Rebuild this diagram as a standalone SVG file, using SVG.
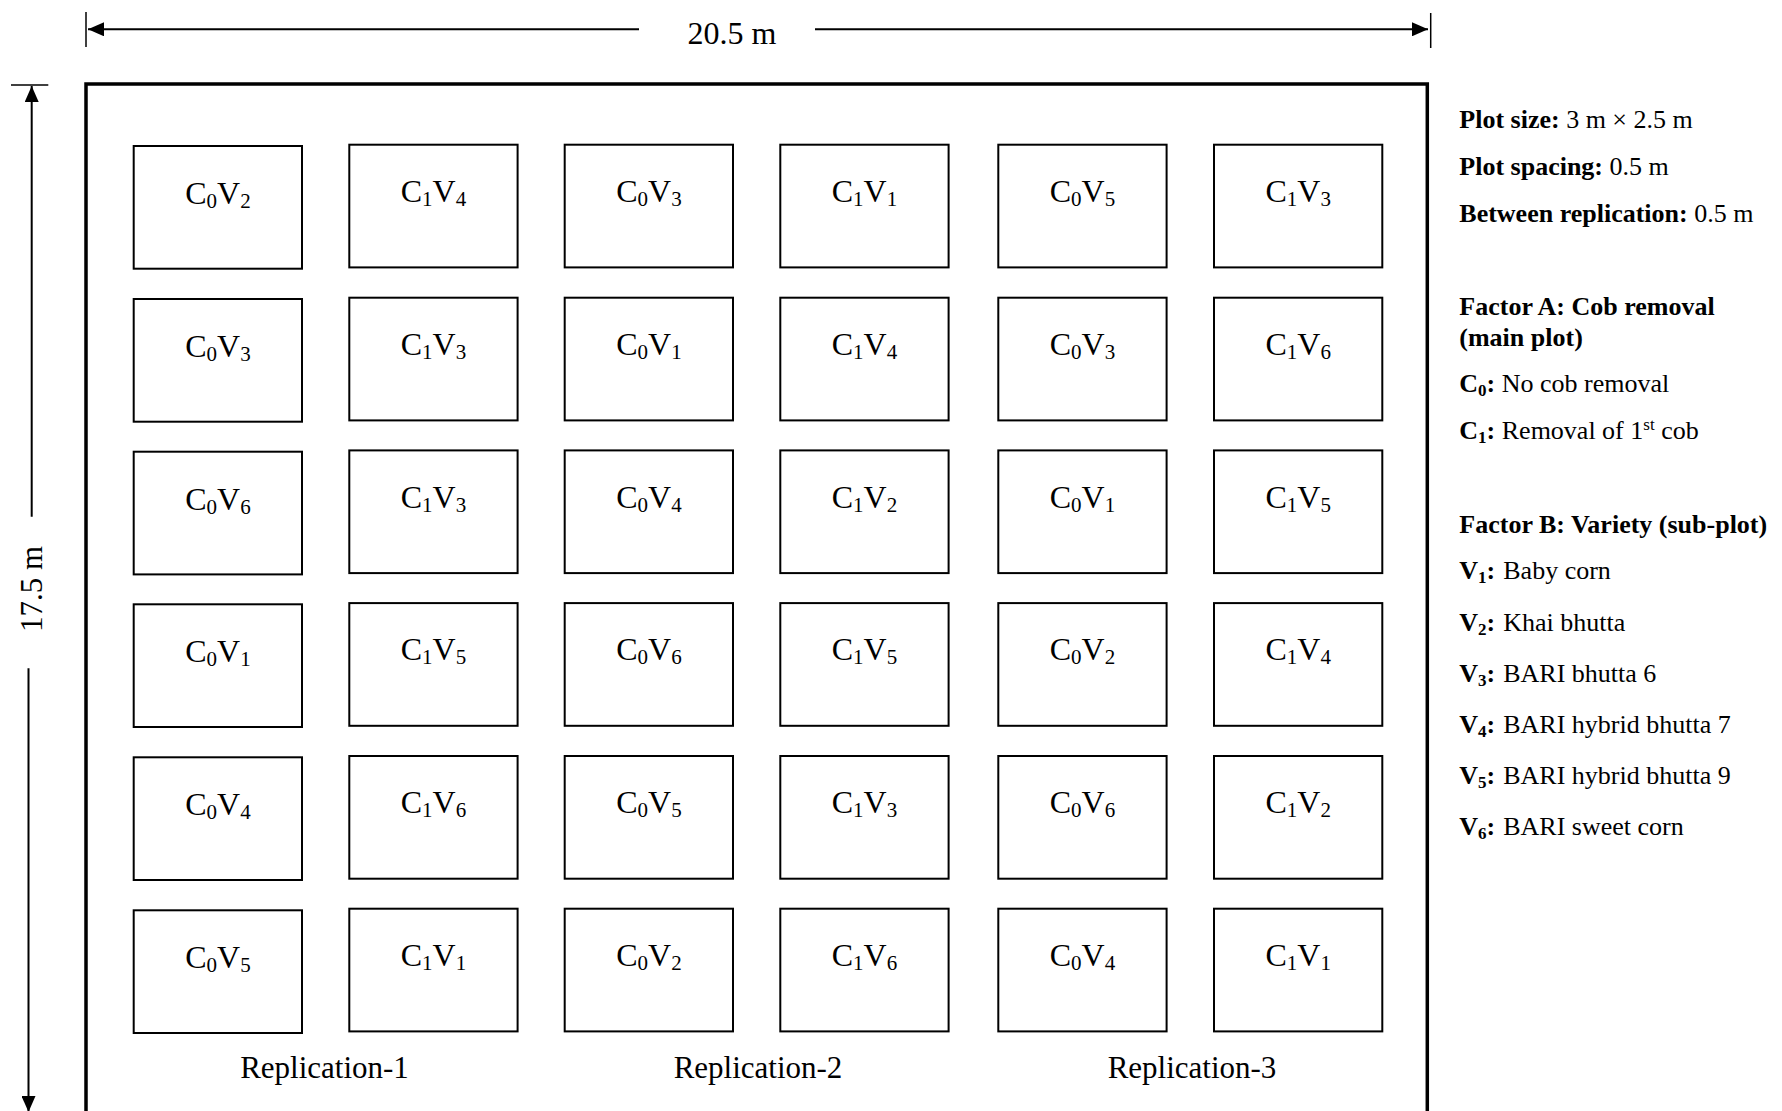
<svg xmlns="http://www.w3.org/2000/svg" width="1782" height="1111" viewBox="0 0 1782 1111">
<style>
text{font-family:"Liberation Serif","Times New Roman",serif;fill:#000}
.lab{font-size:32px;text-anchor:middle}
.sub{font-size:21px}
.plot{fill:#fff;stroke:#000;stroke-width:2}
.dim{stroke:#000;stroke-width:2;fill:none}
.tick{stroke:#000;stroke-width:1.5}
.leg{font-size:26px}
.b{font-weight:bold}
.ls{font-size:17px}
.rep{font-size:31px;text-anchor:middle}
</style>
<defs>
<marker id="ah" viewBox="0 0 16 14" refX="16" refY="7" markerWidth="16" markerHeight="14" markerUnits="userSpaceOnUse" orient="auto">
<path d="M0,0 L16,7 L0,14 z" fill="#000"/>
</marker>
</defs>
<g id="connectors">
<line class="dim" x1="639" y1="29.3" x2="88" y2="29.3" marker-end="url(#ah)"/>
<line class="dim" x1="815" y1="29.3" x2="1428" y2="29.3" marker-end="url(#ah)"/>
<line class="tick" x1="86" y1="12" x2="86" y2="47"/>
<line class="tick" x1="1430.7" y1="13" x2="1430.7" y2="48"/>
<line class="dim" x1="31.7" y1="516.7" x2="31.7" y2="86" marker-end="url(#ah)"/>
<line class="dim" x1="28.5" y1="668.3" x2="28.5" y2="1112" marker-end="url(#ah)"/>
<line class="tick" x1="11" y1="85" x2="48.3" y2="85"/>
</g>
<text x="732" y="44" style="font-size:32px;text-anchor:middle">20.5 m</text>
<text transform="translate(41.5,589) rotate(-90)" style="font-size:31px;text-anchor:middle">17.5 m</text>
<rect id="field" x="86" y="84" width="1341.3" height="1040" fill="none" stroke="#000" stroke-width="3.5"/>
<g id="plots">
<g id="r1c1"><rect class="plot" x="133.7" y="146" width="168.3" height="122.7"/><text class="lab" x="217.9" y="204">C<tspan class="sub" dy="4">0</tspan><tspan dy="-4">V</tspan><tspan class="sub" dy="4">2</tspan></text></g>
<g id="r1c2"><rect class="plot" x="349.3" y="144.7" width="168.3" height="122.7"/><text class="lab" x="433.5" y="202">C<tspan class="sub" dy="4">1</tspan><tspan dy="-4">V</tspan><tspan class="sub" dy="4">4</tspan></text></g>
<g id="r1c3"><rect class="plot" x="564.7" y="144.7" width="168.3" height="122.7"/><text class="lab" x="648.9" y="202">C<tspan class="sub" dy="4">0</tspan><tspan dy="-4">V</tspan><tspan class="sub" dy="4">3</tspan></text></g>
<g id="r1c4"><rect class="plot" x="780.3" y="144.7" width="168.3" height="122.7"/><text class="lab" x="864.5" y="202">C<tspan class="sub" dy="4">1</tspan><tspan dy="-4">V</tspan><tspan class="sub" dy="4">1</tspan></text></g>
<g id="r1c5"><rect class="plot" x="998.3" y="144.7" width="168.3" height="122.7"/><text class="lab" x="1082.5" y="202">C<tspan class="sub" dy="4">0</tspan><tspan dy="-4">V</tspan><tspan class="sub" dy="4">5</tspan></text></g>
<g id="r1c6"><rect class="plot" x="1214" y="144.7" width="168.3" height="122.7"/><text class="lab" x="1298.2" y="202">C<tspan class="sub" dy="4">1</tspan><tspan dy="-4">V</tspan><tspan class="sub" dy="4">3</tspan></text></g>

<g id="r2c1"><rect class="plot" x="133.7" y="299" width="168.3" height="122.7"/><text class="lab" x="217.9" y="357">C<tspan class="sub" dy="4">0</tspan><tspan dy="-4">V</tspan><tspan class="sub" dy="4">3</tspan></text></g>
<g id="r2c2"><rect class="plot" x="349.3" y="297.7" width="168.3" height="122.7"/><text class="lab" x="433.5" y="355">C<tspan class="sub" dy="4">1</tspan><tspan dy="-4">V</tspan><tspan class="sub" dy="4">3</tspan></text></g>
<g id="r2c3"><rect class="plot" x="564.7" y="297.7" width="168.3" height="122.7"/><text class="lab" x="648.9" y="355">C<tspan class="sub" dy="4">0</tspan><tspan dy="-4">V</tspan><tspan class="sub" dy="4">1</tspan></text></g>
<g id="r2c4"><rect class="plot" x="780.3" y="297.7" width="168.3" height="122.7"/><text class="lab" x="864.5" y="355">C<tspan class="sub" dy="4">1</tspan><tspan dy="-4">V</tspan><tspan class="sub" dy="4">4</tspan></text></g>
<g id="r2c5"><rect class="plot" x="998.3" y="297.7" width="168.3" height="122.7"/><text class="lab" x="1082.5" y="355">C<tspan class="sub" dy="4">0</tspan><tspan dy="-4">V</tspan><tspan class="sub" dy="4">3</tspan></text></g>
<g id="r2c6"><rect class="plot" x="1214" y="297.7" width="168.3" height="122.7"/><text class="lab" x="1298.2" y="355">C<tspan class="sub" dy="4">1</tspan><tspan dy="-4">V</tspan><tspan class="sub" dy="4">6</tspan></text></g>

<g id="r3c1"><rect class="plot" x="133.7" y="451.7" width="168.3" height="122.7"/><text class="lab" x="217.9" y="509.7">C<tspan class="sub" dy="4">0</tspan><tspan dy="-4">V</tspan><tspan class="sub" dy="4">6</tspan></text></g>
<g id="r3c2"><rect class="plot" x="349.3" y="450.4" width="168.3" height="122.7"/><text class="lab" x="433.5" y="507.7">C<tspan class="sub" dy="4">1</tspan><tspan dy="-4">V</tspan><tspan class="sub" dy="4">3</tspan></text></g>
<g id="r3c3"><rect class="plot" x="564.7" y="450.4" width="168.3" height="122.7"/><text class="lab" x="648.9" y="507.7">C<tspan class="sub" dy="4">0</tspan><tspan dy="-4">V</tspan><tspan class="sub" dy="4">4</tspan></text></g>
<g id="r3c4"><rect class="plot" x="780.3" y="450.4" width="168.3" height="122.7"/><text class="lab" x="864.5" y="507.7">C<tspan class="sub" dy="4">1</tspan><tspan dy="-4">V</tspan><tspan class="sub" dy="4">2</tspan></text></g>
<g id="r3c5"><rect class="plot" x="998.3" y="450.4" width="168.3" height="122.7"/><text class="lab" x="1082.5" y="507.7">C<tspan class="sub" dy="4">0</tspan><tspan dy="-4">V</tspan><tspan class="sub" dy="4">1</tspan></text></g>
<g id="r3c6"><rect class="plot" x="1214" y="450.4" width="168.3" height="122.7"/><text class="lab" x="1298.2" y="507.7">C<tspan class="sub" dy="4">1</tspan><tspan dy="-4">V</tspan><tspan class="sub" dy="4">5</tspan></text></g>

<g id="r4c1"><rect class="plot" x="133.7" y="604.3" width="168.3" height="122.7"/><text class="lab" x="217.9" y="662.3">C<tspan class="sub" dy="4">0</tspan><tspan dy="-4">V</tspan><tspan class="sub" dy="4">1</tspan></text></g>
<g id="r4c2"><rect class="plot" x="349.3" y="603.1" width="168.3" height="122.7"/><text class="lab" x="433.5" y="660.3">C<tspan class="sub" dy="4">1</tspan><tspan dy="-4">V</tspan><tspan class="sub" dy="4">5</tspan></text></g>
<g id="r4c3"><rect class="plot" x="564.7" y="603.1" width="168.3" height="122.7"/><text class="lab" x="648.9" y="660.3">C<tspan class="sub" dy="4">0</tspan><tspan dy="-4">V</tspan><tspan class="sub" dy="4">6</tspan></text></g>
<g id="r4c4"><rect class="plot" x="780.3" y="603.1" width="168.3" height="122.7"/><text class="lab" x="864.5" y="660.3">C<tspan class="sub" dy="4">1</tspan><tspan dy="-4">V</tspan><tspan class="sub" dy="4">5</tspan></text></g>
<g id="r4c5"><rect class="plot" x="998.3" y="603.1" width="168.3" height="122.7"/><text class="lab" x="1082.5" y="660.3">C<tspan class="sub" dy="4">0</tspan><tspan dy="-4">V</tspan><tspan class="sub" dy="4">2</tspan></text></g>
<g id="r4c6"><rect class="plot" x="1214" y="603.1" width="168.3" height="122.7"/><text class="lab" x="1298.2" y="660.3">C<tspan class="sub" dy="4">1</tspan><tspan dy="-4">V</tspan><tspan class="sub" dy="4">4</tspan></text></g>

<g id="r5c1"><rect class="plot" x="133.7" y="757.3" width="168.3" height="122.7"/><text class="lab" x="217.9" y="815.3">C<tspan class="sub" dy="4">0</tspan><tspan dy="-4">V</tspan><tspan class="sub" dy="4">4</tspan></text></g>
<g id="r5c2"><rect class="plot" x="349.3" y="756" width="168.3" height="122.7"/><text class="lab" x="433.5" y="813.3">C<tspan class="sub" dy="4">1</tspan><tspan dy="-4">V</tspan><tspan class="sub" dy="4">6</tspan></text></g>
<g id="r5c3"><rect class="plot" x="564.7" y="756" width="168.3" height="122.7"/><text class="lab" x="648.9" y="813.3">C<tspan class="sub" dy="4">0</tspan><tspan dy="-4">V</tspan><tspan class="sub" dy="4">5</tspan></text></g>
<g id="r5c4"><rect class="plot" x="780.3" y="756" width="168.3" height="122.7"/><text class="lab" x="864.5" y="813.3">C<tspan class="sub" dy="4">1</tspan><tspan dy="-4">V</tspan><tspan class="sub" dy="4">3</tspan></text></g>
<g id="r5c5"><rect class="plot" x="998.3" y="756" width="168.3" height="122.7"/><text class="lab" x="1082.5" y="813.3">C<tspan class="sub" dy="4">0</tspan><tspan dy="-4">V</tspan><tspan class="sub" dy="4">6</tspan></text></g>
<g id="r5c6"><rect class="plot" x="1214" y="756" width="168.3" height="122.7"/><text class="lab" x="1298.2" y="813.3">C<tspan class="sub" dy="4">1</tspan><tspan dy="-4">V</tspan><tspan class="sub" dy="4">2</tspan></text></g>

<g id="r6c1"><rect class="plot" x="133.7" y="910.3" width="168.3" height="122.7"/><text class="lab" x="217.9" y="968.3">C<tspan class="sub" dy="4">0</tspan><tspan dy="-4">V</tspan><tspan class="sub" dy="4">5</tspan></text></g>
<g id="r6c2"><rect class="plot" x="349.3" y="908.7" width="168.3" height="122.7"/><text class="lab" x="433.5" y="966.3">C<tspan class="sub" dy="4">1</tspan><tspan dy="-4">V</tspan><tspan class="sub" dy="4">1</tspan></text></g>
<g id="r6c3"><rect class="plot" x="564.7" y="908.7" width="168.3" height="122.7"/><text class="lab" x="648.9" y="966.3">C<tspan class="sub" dy="4">0</tspan><tspan dy="-4">V</tspan><tspan class="sub" dy="4">2</tspan></text></g>
<g id="r6c4"><rect class="plot" x="780.3" y="908.7" width="168.3" height="122.7"/><text class="lab" x="864.5" y="966.3">C<tspan class="sub" dy="4">1</tspan><tspan dy="-4">V</tspan><tspan class="sub" dy="4">6</tspan></text></g>
<g id="r6c5"><rect class="plot" x="998.3" y="908.7" width="168.3" height="122.7"/><text class="lab" x="1082.5" y="966.3">C<tspan class="sub" dy="4">0</tspan><tspan dy="-4">V</tspan><tspan class="sub" dy="4">4</tspan></text></g>
<g id="r6c6"><rect class="plot" x="1214" y="908.7" width="168.3" height="122.7"/><text class="lab" x="1298.2" y="966.3">C<tspan class="sub" dy="4">1</tspan><tspan dy="-4">V</tspan><tspan class="sub" dy="4">1</tspan></text></g>
</g>
<g id="replications">
<text class="rep" x="324.5" y="1078.3">Replication-1</text>
<text class="rep" x="758" y="1078.3">Replication-2</text>
<text class="rep" x="1192" y="1078.3">Replication-3</text>
</g>
<g id="legend" class="leg">
<text x="1459.3" y="128.3"><tspan class="b">Plot size:</tspan> 3 m × 2.5 m</text>
<text x="1459.3" y="175"><tspan class="b">Plot spacing:</tspan> 0.5 m</text>
<text x="1459.3" y="221.7"><tspan class="b">Between replication:</tspan> 0.5 m</text>
<text x="1459.3" y="315" class="b">Factor A: Cob removal</text>
<text x="1459.3" y="346" class="b">(main plot)</text>
<text x="1459.3" y="392"><tspan class="b">C</tspan><tspan class="b ls" dy="4">0</tspan><tspan class="b" dy="-4">:</tspan> No cob removal</text>
<text x="1459.3" y="439"><tspan class="b">C</tspan><tspan class="b ls" dy="4">1</tspan><tspan class="b" dy="-4">:</tspan> Removal of 1<tspan class="ls" dy="-9">st</tspan><tspan dy="9"> cob</tspan></text>
<text x="1459.3" y="533" class="b">Factor B: Variety (sub-plot)</text>
<text x="1459.3" y="579"><tspan class="b">V</tspan><tspan class="b ls" dy="4">1</tspan><tspan class="b" dy="-4">:</tspan><tspan dx="8">Baby corn</tspan></text>
<text x="1459.3" y="630.5"><tspan class="b">V</tspan><tspan class="b ls" dy="4">2</tspan><tspan class="b" dy="-4">:</tspan><tspan dx="8">Khai bhutta</tspan></text>
<text x="1459.3" y="681.5"><tspan class="b">V</tspan><tspan class="b ls" dy="4">3</tspan><tspan class="b" dy="-4">:</tspan><tspan dx="8">BARI bhutta 6</tspan></text>
<text x="1459.3" y="733"><tspan class="b">V</tspan><tspan class="b ls" dy="4">4</tspan><tspan class="b" dy="-4">:</tspan><tspan dx="8">BARI hybrid bhutta 7</tspan></text>
<text x="1459.3" y="784"><tspan class="b">V</tspan><tspan class="b ls" dy="4">5</tspan><tspan class="b" dy="-4">:</tspan><tspan dx="8">BARI hybrid bhutta 9</tspan></text>
<text x="1459.3" y="835"><tspan class="b">V</tspan><tspan class="b ls" dy="4">6</tspan><tspan class="b" dy="-4">:</tspan><tspan dx="8">BARI sweet corn</tspan></text>
</g>
</svg>
